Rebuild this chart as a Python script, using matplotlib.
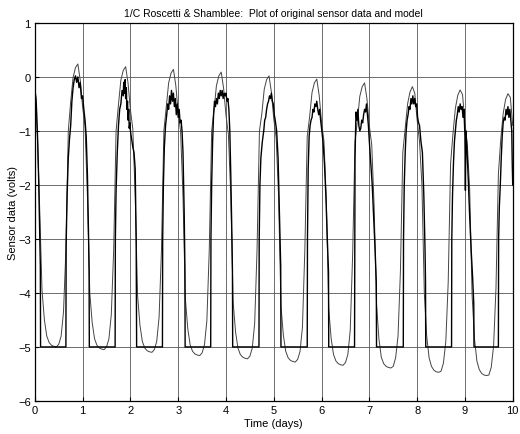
import matplotlib
matplotlib.use('Agg')
import numpy as np
import matplotlib.pyplot as plt

model_time = np.round(np.arange(201) * 0.05, 2)
model_volts = [
    -0.25, -1.0, -2.4, -3.95, -4.50, -4.80, -4.92, -4.97, -4.99, -5.00, -4.95, -4.80, -4.35, -3.2, -1.0, -0.46, -0.01, 0.17, 0.24, -0.06,
    -0.56, -0.91, -2.2, -4.0, -4.55, -4.85, -4.97, -5.02, -5.04, -5.05, -5.00, -4.85, -4.40, -3.2, -1.0, -0.51, -0.06, 0.12, 0.19, -0.11,
    -0.61, -0.96, -2.2, -4.05, -4.60, -4.90, -5.02, -5.07, -5.09, -5.10, -5.05, -4.90, -4.45, -3.2, -1.0, -0.56, -0.11, 0.07, 0.14, -0.16,
    -0.66, -1.01, -2.2, -4.11, -4.66, -4.96, -5.08, -5.13, -5.15, -5.16, -5.11, -4.96, -4.51, -3.2, -1.0, -0.61, -0.16, 0.02, 0.09, -0.21,
    -0.71, -1.06, -2.2, -4.17, -4.72, -5.02, -5.14, -5.19, -5.21, -5.22, -5.17, -5.02, -4.57, -3.2, -1.0, -0.68, -0.23, -0.05, 0.02, -0.28,
    -0.78, -1.13, -2.2, -4.23, -4.78, -5.08, -5.20, -5.25, -5.27, -5.28, -5.23, -5.08, -4.63, -3.2, -1.1, -0.74, -0.29, -0.11, -0.04, -0.34,
    -0.84, -1.19, -2.3, -4.29, -4.84, -5.14, -5.26, -5.31, -5.33, -5.34, -5.29, -5.14, -4.69, -3.3, -1.2, -0.81, -0.36, -0.18, -0.11, -0.41,
    -0.91, -1.26, -2.4, -4.2, -4.85, -5.19, -5.31, -5.36, -5.38, -5.39, -5.36, -5.2, -4.8, -3.6, -1.4, -0.95, -0.5, -0.28, -0.18, -0.3,
    -0.8, -1.2, -2.0, -4.0, -4.8, -5.2, -5.36, -5.43, -5.46, -5.47, -5.45, -5.3, -4.9, -3.8, -1.6, -1.05, -0.58, -0.34, -0.24, -0.33,
    -0.85, -1.25, -2.1, -4.05, -4.85, -5.26, -5.42, -5.49, -5.52, -5.53, -5.52, -5.38, -4.98, -3.9, -1.8, -1.15, -0.68, -0.42, -0.31, -0.38,
    -0.9,
]

# sensor data (clipped at -5 V in the troughs)
sensor_time = [
    0.0, 0.01, 0.025, 0.04, 0.06, 0.08, 0.10, 0.115, 0.12,
    0.65, 0.655, 0.675, 0.70, 0.725, 0.75, 0.775, 0.80, 0.825, 0.85, 0.875, 0.90, 0.925, 0.95, 0.975, 1.00, 1.025, 1.05, 1.075, 1.10, 1.125, 1.135, 1.14,
    1.68, 1.685, 1.70, 1.725, 1.75, 1.775, 1.80, 1.825, 1.85, 1.86, 1.875, 1.89, 1.90, 1.915, 1.925, 1.94, 1.95, 1.965, 1.975, 1.99, 2.00, 2.025, 2.05, 2.075, 2.10, 2.12, 2.13,
    2.67, 2.675, 2.69, 2.71, 2.735, 2.76, 2.78, 2.80, 2.82, 2.84, 2.86, 2.88, 2.90, 2.92, 2.94, 2.96, 2.98, 3.00, 3.02, 3.04, 3.06, 3.08, 3.10, 3.125, 3.14, 3.145,
    3.68, 3.685, 3.70, 3.72, 3.74, 3.76, 3.78, 3.80, 3.82, 3.84, 3.86, 3.88, 3.90, 3.92, 3.94, 3.96, 3.98, 4.00, 4.02, 4.04, 4.06, 4.08, 4.10, 4.125, 4.135, 4.14,
    4.69, 4.695, 4.71, 4.73, 4.76, 4.79, 4.81, 4.83, 4.85, 4.87, 4.89, 4.91, 4.93, 4.95, 4.97, 4.99, 5.01, 5.03, 5.06, 5.09, 5.12, 5.145, 5.15,
    5.70, 5.705, 5.72, 5.74, 5.76, 5.78, 5.80, 5.82, 5.84, 5.86, 5.88, 5.90, 5.92, 5.94, 5.96, 5.98, 6.00, 6.03, 6.06, 6.09, 6.12, 6.145, 6.15,
    6.69, 6.695, 6.70, 6.72, 6.74, 6.76, 6.78, 6.80, 6.82, 6.84, 6.86, 6.88, 6.90, 6.92, 6.94, 6.96, 6.98, 7.00, 7.03, 7.06, 7.09, 7.12, 7.145, 7.15,
    7.71, 7.715, 7.73, 7.75, 7.77, 7.79, 7.81, 7.83, 7.85, 7.87, 7.89, 7.91, 7.93, 7.95, 7.97, 7.99, 8.01, 8.03, 8.05, 8.08, 8.11, 8.14, 8.165, 8.175, 8.18,
    8.72, 8.725, 8.74, 8.76, 8.78, 8.80, 8.82, 8.84, 8.86, 8.88, 8.90, 8.92, 8.94, 8.96, 8.98, 9.00, 9.01, 9.02, 9.04, 9.07, 9.10, 9.13, 9.16, 9.185, 9.19,
    9.70, 9.705, 9.72, 9.74, 9.76, 9.78, 9.80, 9.82, 9.84, 9.86, 9.88, 9.90, 9.92, 9.94, 9.96, 9.98, 9.99, 10.00,
]
sensor_volts = [
    -0.1, -0.3, -0.4, -0.7, -1.2, -1.9, -2.8, -3.5, -5.0,
    -5.0, -3.1, -2.2, -1.5, -1.15, -0.9, -0.45, -0.2, -0.05, 0.02, -0.1, 0.0, -0.2, -0.1, -0.4, -0.35, -0.6, -0.8, -1.1, -1.8, -3.0, -3.6, -5.0,
    -5.0, -3.0, -2.1, -1.4, -0.9, -0.6, -0.5, -0.25, -0.35, -0.1, -0.3, -0.05, -0.4, -0.2, -0.6, -0.45, -0.8, -0.6, -0.95, -0.85, -1.0, -1.15, -1.3, -1.4, -1.7, -3.0, -5.0,
    -5.0, -3.0, -2.0, -1.3, -0.9, -0.7, -0.5, -0.6, -0.35, -0.5, -0.25, -0.45, -0.3, -0.55, -0.4, -0.7, -0.5, -0.75, -0.6, -0.85, -0.8, -1.0, -1.4, -2.5, -3.5, -5.0,
    -5.0, -3.0, -2.0, -1.2, -0.7, -0.45, -0.55, -0.4, -0.5, -0.3, -0.4, -0.25, -0.35, -0.25, -0.4, -0.3, -0.35, -0.3, -0.45, -0.4, -0.6, -1.0, -1.8, -3.0, -3.6, -5.0,
    -5.0, -3.0, -2.0, -1.5, -1.2, -1.0, -0.8, -0.75, -0.6, -0.5, -0.45, -0.35, -0.4, -0.3, -0.45, -0.5, -0.7, -0.8, -1.0, -1.5, -2.6, -3.5, -5.0,
    -5.0, -3.0, -1.7, -1.1, -0.9, -0.8, -0.75, -0.6, -0.65, -0.5, -0.55, -0.45, -0.6, -0.7, -0.6, -0.8, -0.95, -1.2, -1.6, -2.2, -3.0, -3.6, -5.0,
    -5.0, -3.0, -1.5, -0.65, -0.8, -0.6, -0.9, -1.0, -0.95, -0.8, -0.85, -0.7, -0.6, -0.65, -0.5, -0.7, -0.9, -1.2, -1.6, -2.0, -2.6, -3.2, -3.8, -5.0,
    -5.0, -3.0, -2.0, -1.4, -1.0, -0.8, -0.7, -0.55, -0.6, -0.4, -0.5, -0.35, -0.5, -0.4, -0.55, -0.5, -0.75, -0.85, -0.9, -1.2, -1.4, -2.2, -3.2, -3.8, -5.0,
    -5.0, -3.0, -2.2, -1.6, -1.2, -1.0, -0.8, -0.7, -0.55, -0.65, -0.5, -0.6, -0.55, -0.75, -0.6, -1.1, -2.1, -1.0, -1.3, -1.9, -2.6, -3.2, -3.7, -4.2, -5.0,
    -5.0, -3.0, -2.4, -2.0, -1.5, -1.1, -0.85, -0.75, -0.8, -0.6, -0.7, -0.55, -0.75, -0.6, -0.8, -1.0, -1.6, -2.0,
]

plt.rcParams['font.family'] = ['Liberation Sans', 'DejaVu Sans']

fig = plt.figure(figsize=(5.2, 4.35), dpi=100)
ax = fig.add_axes([0.067, 0.076, 0.919, 0.869])

ax.plot(model_time, model_volts, color='#444444', lw=0.7)
ax.plot(sensor_time, sensor_volts, color='black', lw=1.0)

ax.set_xlim(0, 10)
ax.set_ylim(-6, 1)
ax.set_xticks(range(0, 11))
ax.set_yticks(range(-6, 2))
ax.grid(True, color='#555555', lw=0.6)
ax.tick_params(direction='in', labelsize=8, length=3, pad=3)
for s in ax.spines.values():
    s.set_linewidth(0.9)

ax.set_title('1/C Roscetti & Shamblee:  Plot of original sensor data and model', fontsize=7.5, pad=5)
ax.set_xlabel('Time (days)', fontsize=8, labelpad=2)
ax.set_ylabel('Sensor data (volts)', fontsize=8)
ax.yaxis.set_label_coords(-0.036, 0.5)

fig.savefig('out.png', dpi=100)
